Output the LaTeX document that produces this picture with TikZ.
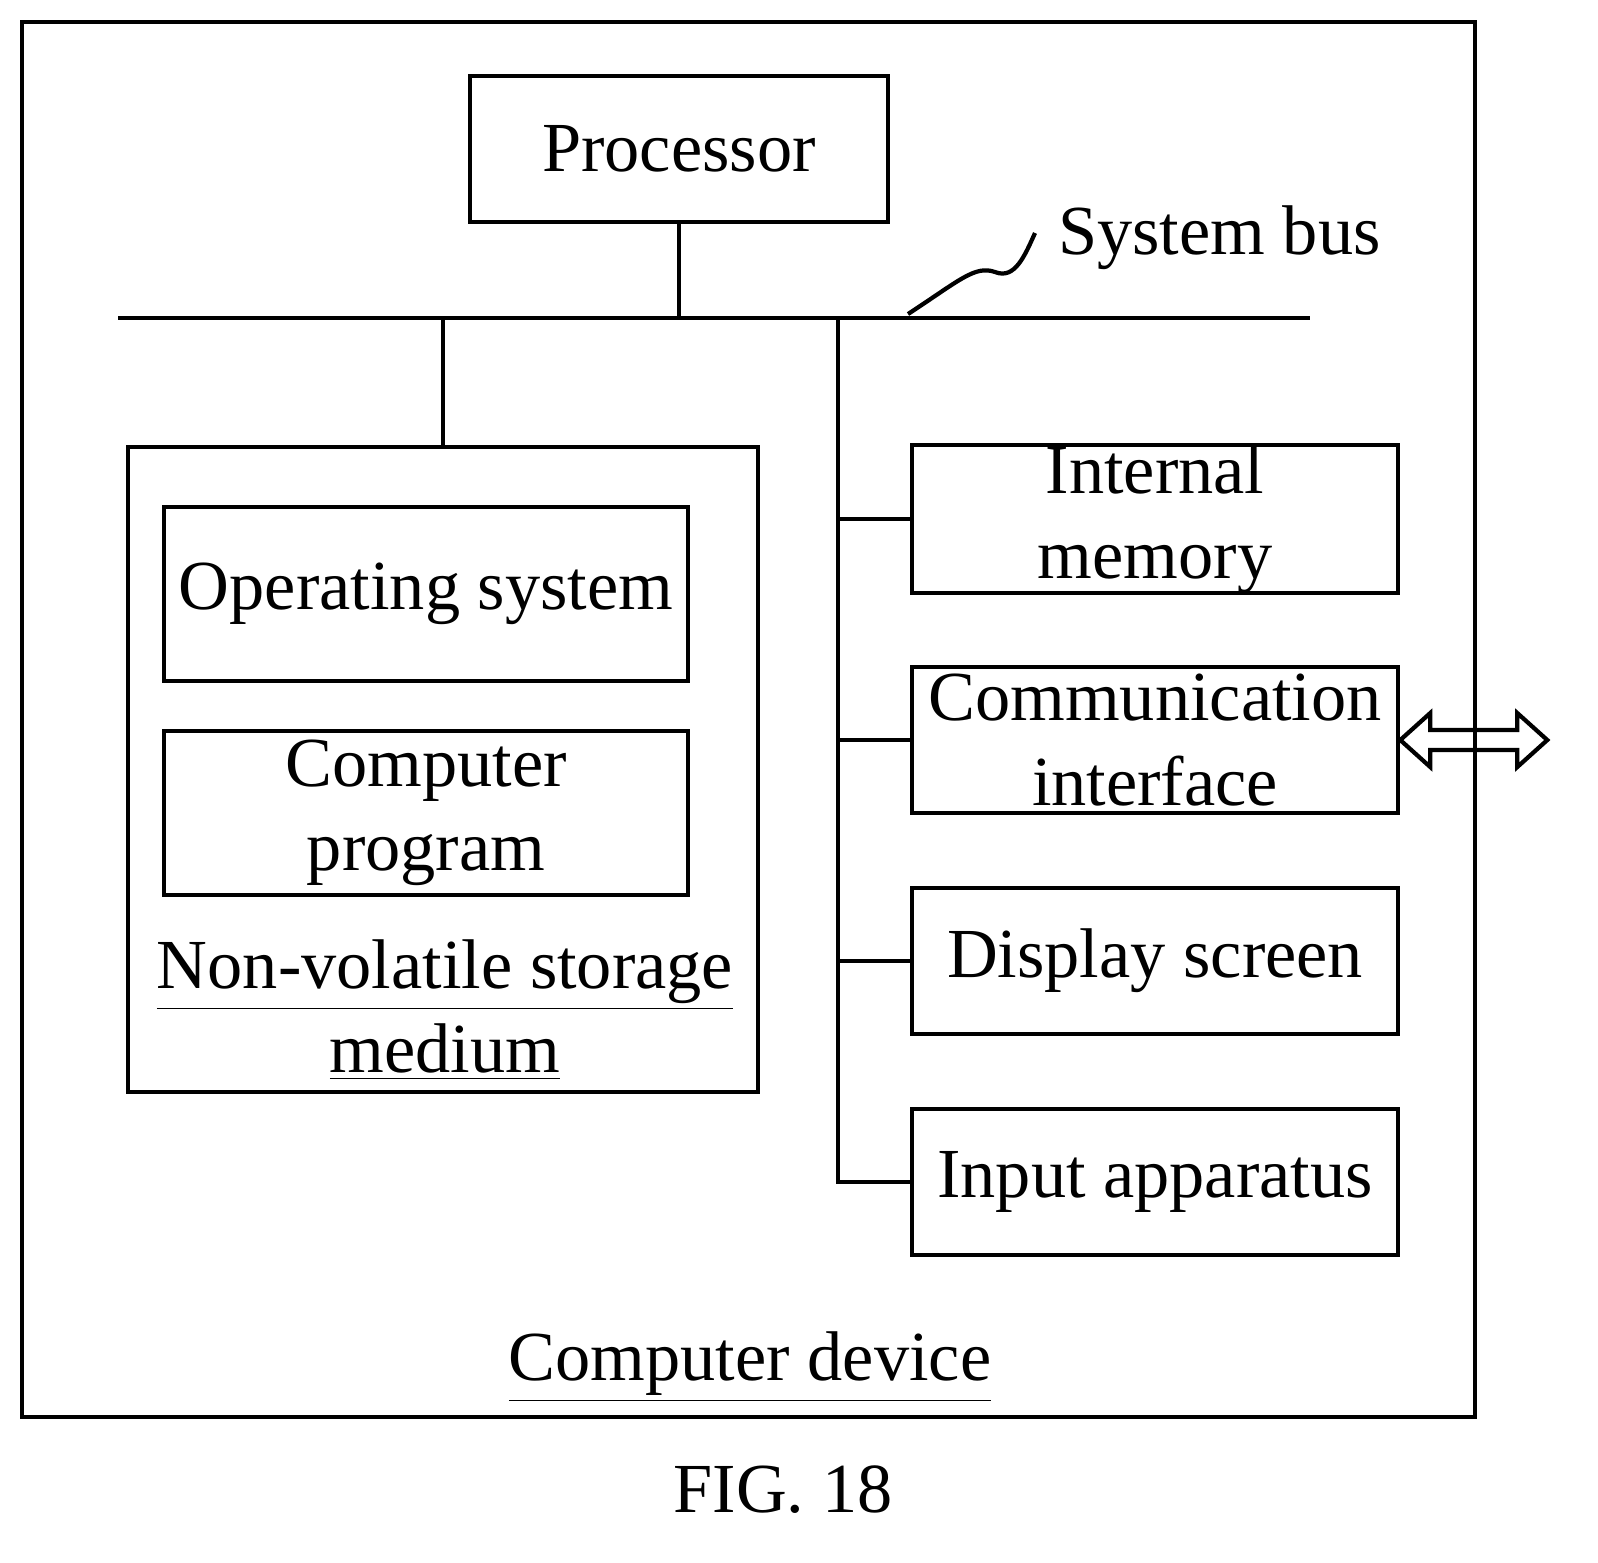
\documentclass[tikz,border=0pt]{standalone}
\usepackage{fontspec}
\setmainfont{Liberation Serif}
\usetikzlibrary{calc}
\begin{document}
\begin{tikzpicture}[x=0.01cm,y=-0.01cm,line width=1.2pt,
	box/.style={draw,line width=1.2pt,inner sep=0pt},
	lbl/.style={font=\fontsize{20}{24}\selectfont,align=center,inner sep=0pt}]
	\useasboundingbox (0,0) rectangle (1598,1562);

	% outer frame
	\draw (22,22) rectangle (1475,1417);

	% processor and bus
	\node [box,minimum width=4.18cm,minimum height=1.46cm,lbl] (proc) at (679,149) {Processor};
	\coordinate (busl) at (118,318);
	\coordinate (busr) at (1310,318);
	\draw (busl) -- (busr);
	\draw (proc.south) -- (proc.south |- busl);
	\node [lbl,anchor=west] (buslbl) at (1056,238) {System bus};
	\draw (908,314) .. controls (960,280) and (975,265) .. (995,272) .. controls (1015,280) and (1025,255) .. (1035,233);

	% storage medium
	\draw (128,447) rectangle (758,1092);
	\coordinate (stor) at (443,447);
	\draw (stor) -- (stor |- busl);
	\node [box,minimum width=5.24cm,minimum height=1.74cm,lbl] (os) at (426,594) {Operating system};
	\node [box,minimum width=5.24cm,minimum height=1.64cm,lbl] (prog) at (426,813) {Computer\\program};
	\node [lbl] (storlbl) at (445,1010) {\underline{Non-volatile storage}\\\underline{medium}};

	% devices
	\node [box,minimum width=4.86cm,minimum height=1.45cm,lbl] (mem) at (1155,519) {Internal\\memory};
	\node [box,minimum width=4.86cm,minimum height=1.46cm,lbl] (comm) at (1155,740) {Communication\\interface};
	\node [box,minimum width=4.86cm,minimum height=1.46cm,lbl] (disp) at (1155,961) {Display screen};
	\node [box,minimum width=4.86cm,minimum height=1.46cm,lbl] (inp) at (1155,1182) {Input apparatus};
	\coordinate (vtop) at (838,318);
	\draw (vtop) -- (vtop |- inp.west) -- (inp.west);
	\draw (vtop |- mem.west) -- (mem.west);
	\draw (vtop |- comm.west) -- (comm.west);
	\draw (vtop |- disp.west) -- (disp.west);

	% two-way arrow
	\draw [shift={(comm.east)}] (0,0) -- (30,-27) -- (30,-10) -- (117,-10) -- (117,-27) -- (147,0)
		-- (117,27) -- (117,10) -- (30,10) -- (30,27) -- cycle;

	\node [lbl] (dev) at (750,1367) {\underline{Computer device}};
	\node [lbl] (fig) at (783,1490) {FIG. 18};
\end{tikzpicture}
\end{document}
